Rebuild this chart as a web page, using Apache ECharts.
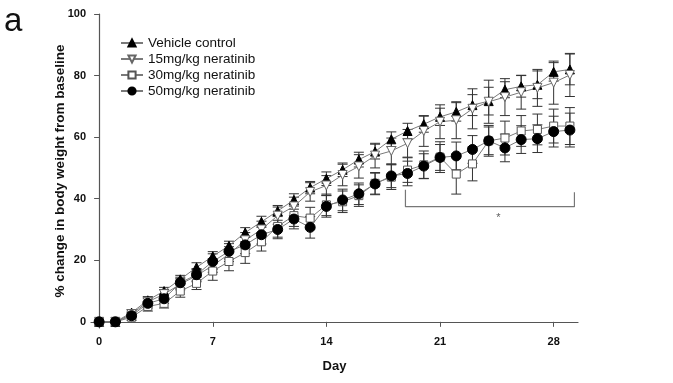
<!DOCTYPE html>
<html>
<head>
<meta charset="utf-8">
<script src="https://cdn.jsdelivr.net/npm/echarts@6/dist/echarts.min.js"></script>
<style>
  html, body { margin: 0; padding: 0; background: #fff; }
  #chart { width: 673px; height: 383px; }
</style>
</head>
<body>
<div id="chart"></div>
<script>
const days = [0, 1, 2, 3, 4, 5, 6, 7, 8, 9, 10, 11, 12, 13, 14, 15, 16, 17, 18, 19, 20, 21, 22, 23, 24, 25, 26, 27, 28, 29];

const vehicle = [0, 0, 3, 7, 10, 13.8, 17.7, 21.3, 24.7, 29, 32.5, 36, 39.6, 43.6, 46.5, 49.4, 52.7, 55.3, 59.3, 62, 64.2, 66.6, 68.2, 70.4, 71.7, 75.4, 76.5, 77, 81.2, 82];
const vehicleErr = [0, 0, 1, 1.2, 1.2, 1.3, 1.5, 1.5, 1.5, 1.6, 1.8, 1.8, 2, 2, 2.2, 2.2, 2.4, 2.4, 2.4, 2.5, 2.6, 2.8, 3, 3.4, 4.5, 2.6, 3.5, 4.5, 3, 5];

const dose15 = [0, 0, 2.5, 6.5, 9, 12.2, 15, 18.3, 22, 26.5, 30, 34.5, 37.5, 42.2, 44.3, 47.7, 50.5, 54, 55.5, 58, 62, 65, 65.5, 69.2, 71.5, 73, 74.6, 76, 77.7, 80.2];
const dose15Err = [0, 0, 1, 1.5, 1.5, 1.8, 2, 2.2, 2.4, 2.5, 2.7, 2.8, 3, 3, 3.2, 3.5, 3.8, 4, 4.2, 4.5, 5, 5.5, 6, 6.5, 7, 6, 5.5, 6, 7, 7];

const dose30 = [0, 0, 1.5, 5, 6, 10, 12.5, 16.5, 19.6, 22.5, 26, 31, 34.5, 33.7, 38, 39, 41, 45, 47, 49.3, 51, 53.5, 48, 51.3, 58.8, 59.7, 62, 62.5, 63.6, 63.6];
const dose30Err = [0, 0, 1, 1.5, 1.5, 2, 2, 3, 3, 3.5, 3, 3.5, 3.5, 3.5, 3.5, 3.5, 3.5, 3.5, 4, 4, 4.5, 5, 6.5, 5.5, 5, 5.5, 5, 5, 5.5, 6];

const dose50 = [0, 0, 2, 6, 7.5, 12.7, 15.3, 19.6, 22.9, 25, 28.3, 30, 33.4, 30.7, 37.5, 39.6, 41.6, 44.8, 47.4, 48.2, 50.6, 53.4, 53.9, 56, 58.8, 56.5, 59.2, 59.5, 61.8, 62.3];
const dose50Err = [0, 0, 1, 1.5, 1.5, 1.8, 2, 2.5, 2.5, 2.8, 3, 3, 3.2, 3.5, 3.5, 3.5, 3.5, 3.5, 3.8, 4, 4, 4.2, 4.5, 4.5, 4.5, 4.5, 4.5, 4.5, 5, 5.5];

const xTicks = [0, 7, 14, 21, 28];
const yTicks = [0, 20, 40, 60, 80, 100];

// significance bracket (day, % change)
const bracketX = [18.87, 18.87, 29.28, 29.28];
const bracketY = [42.9, 37.4, 37.4, 42.1];
const starPos = [24.6, 33.6];

const font = 'Liberation Sans, Arial, sans-serif';
const lineGray = '#7a7a7a';
const downTri = 'path://M0,0 L10,0 L5,9 Z';

const groups = [
    { name: 'Vehicle control', y: vehicle, err: vehicleErr, symbol: 'triangle', size: 9, fill: '#000', border: '#000' },
    { name: '15mg/kg neratinib', y: dose15, err: dose15Err, symbol: downTri, size: 9, fill: '#fff', border: '#666' },
    { name: '30mg/kg neratinib', y: dose30, err: dose30Err, symbol: 'rect', size: 8, fill: '#fff', border: '#555' },
    { name: '50mg/kg neratinib', y: dose50, err: dose50Err, symbol: 'circle', size: 10, fill: '#000', border: '#000' },
];

const errSeries = groups.map(g => ({
    type: 'custom',
    silent: true,
    z: 2,
    data: days.map((d, i) => [d, g.y[i] - g.err[i], g.y[i] + g.err[i]]),
    encode: { x: 0, y: [1, 2] },
    renderItem: (params, api) => {
        const lo = api.coord([api.value(0), api.value(1)]);
        const hi = api.coord([api.value(0), api.value(2)]);
        const w = 5;
        const style = { stroke: '#333', lineWidth: 1 };
        return {
            type: 'group',
            children: [
                { type: 'line', shape: { x1: lo[0], y1: lo[1], x2: hi[0], y2: hi[1] }, style },
                { type: 'line', shape: { x1: lo[0] - w, y1: lo[1], x2: lo[0] + w, y2: lo[1] }, style },
                { type: 'line', shape: { x1: hi[0] - w, y1: hi[1], x2: hi[0] + w, y2: hi[1] }, style },
            ]
        };
    }
}));

const lineSeries = groups.map(g => ({
    name: g.name,
    type: 'line',
    z: 3,
    data: days.map((d, i) => [d, g.y[i]]),
    symbol: g.symbol,
    symbolSize: g.size,
    showAllSymbol: true,
    lineStyle: { color: lineGray, width: 1 },
    itemStyle: { color: g.fill, borderColor: g.border, borderWidth: 1 },
    animation: false
}));

const option = {
    animation: false,
    grid: { left: 91, right: 95, top: 14, bottom: 55 },
    legend: {
        orient: 'vertical',
        left: 115,
        top: 31,
        itemWidth: 22,
        itemHeight: 9,
        itemGap: 2,
        textStyle: { fontFamily: font, fontSize: 13.5, color: '#111' },
        data: groups.map(g => g.name)
    },
    xAxis: {
        type: 'value',
        min: -0.5,
        max: 29.5,
        name: 'Day',
        nameLocation: 'middle',
        nameGap: 32,
        nameMoveOverlap: false,
        nameTextStyle: { fontFamily: font, fontSize: 13, fontWeight: 'bold', color: '#111' },
        axisLine: { show: true, lineStyle: { color: '#555', width: 1.2 } },
        axisTick: { show: true, length: 5, customValues: xTicks, lineStyle: { color: '#555' } },
        axisLabel: { customValues: xTicks, margin: 8, fontFamily: font, fontSize: 11, fontWeight: 'bold', color: '#111' },
        splitLine: { show: false }
    },
    yAxis: {
        type: 'value',
        min: -2,
        max: 100,
        name: '% change in body weight from baseline',
        nameLocation: 'middle',
        nameRotate: 90,
        nameGap: 24,
        nameMoveOverlap: false,
        nameTextStyle: { fontFamily: font, fontSize: 13.5, fontWeight: 'bold', color: '#111' },
        axisLine: { show: true, lineStyle: { color: '#555', width: 1.2 } },
        axisTick: { show: true, length: 5, customValues: yTicks, lineStyle: { color: '#555' } },
        axisLabel: { customValues: yTicks, margin: 5, fontFamily: font, fontSize: 11, fontWeight: 'bold', color: '#111' },
        splitLine: { show: false }
    },
    graphic: [
        { type: 'text', left: 4, top: 5, style: { text: 'a', fontFamily: font, fontSize: 33, fill: '#111' } }
    ],
    series: [
        ...errSeries,
        ...lineSeries,
        {
            type: 'line',
            silent: true,
            z: 1,
            data: bracketX.map((x, i) => [x, bracketY[i]]),
            symbol: 'none',
            lineStyle: { color: '#777', width: 1.2 }
        },
        {
            type: 'scatter',
            silent: true,
            data: [starPos],
            symbolSize: 0,
            label: { show: true, formatter: '*', position: 'inside', fontFamily: font, fontSize: 11, color: '#333' }
        }
    ]
};

const chart = echarts.init(document.getElementById('chart'));
chart.setOption(option);
</script>
</body>
</html>
